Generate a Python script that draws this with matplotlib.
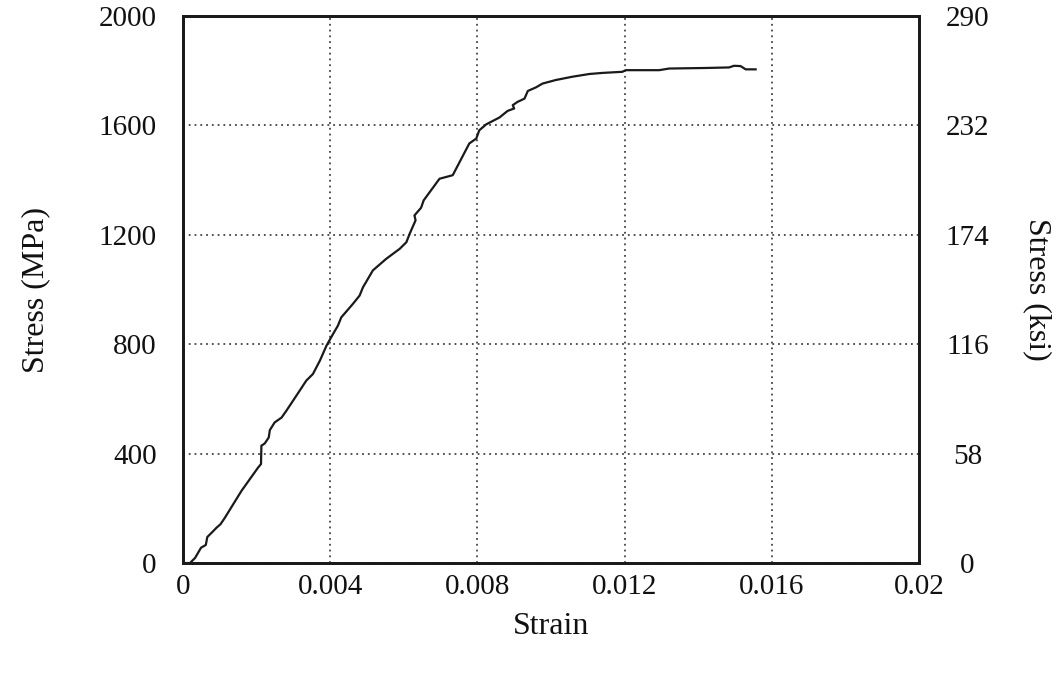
import matplotlib
matplotlib.use("Agg")
import matplotlib.pyplot as plt

# Measured stress-strain response
strain = [0.00005, 0.00019, 0.00033, 0.00049, 0.00062, 0.00066, 0.00078, 0.00091,
          0.00102, 0.00114, 0.00159, 0.00204, 0.00212, 0.00213, 0.00222, 0.00233,
          0.00236, 0.00249, 0.00268, 0.00281, 0.00317, 0.00335, 0.00353, 0.00372,
          0.00390, 0.00408, 0.00421, 0.00430, 0.00462, 0.00480, 0.00489, 0.00516,
          0.00552, 0.00589, 0.00607, 0.00616, 0.00632, 0.00629, 0.00647, 0.00654,
          0.00697, 0.00733, 0.00778, 0.00797, 0.00805, 0.00824, 0.00860, 0.00882,
          0.00900, 0.00896, 0.00909, 0.00928, 0.00937, 0.00959, 0.00977, 0.01013,
          0.01058, 0.01104, 0.01140, 0.01194, 0.01203, 0.01294, 0.01321, 0.01420,
          0.01484, 0.01497, 0.01515, 0.01529, 0.01556]
stress_mpa = [0, 0, 19, 56, 66, 95, 111, 129,
              142, 166, 264, 349, 362, 429, 437, 459,
              486, 514, 532, 557, 630, 667, 691, 740,
              795, 838, 868, 898, 948, 978, 1008, 1070,
              1112, 1149, 1173, 1204, 1253, 1271, 1299, 1326,
              1405, 1418, 1534, 1552, 1582, 1604, 1629, 1653,
              1662, 1674, 1686, 1698, 1726, 1739, 1753, 1766,
              1778, 1788, 1792, 1796, 1802, 1802, 1808, 1810,
              1812, 1818, 1817, 1805, 1805]

x_ticks = [0, 0.004, 0.008, 0.012, 0.016, 0.02]
x_tick_labels = ["0", "0.004", "0.008", "0.012", "0.016", "0.02"]
mpa_ticks = [0, 400, 800, 1200, 1600, 2000]
ksi_ticks = [0, 58, 116, 174, 232, 290]

plt.rcParams["font.family"] = ["Liberation Serif", "DejaVu Serif"]

fig = plt.figure(figsize=(10.59, 6.73), dpi=100)
ax = fig.add_axes([0.1728, 0.1634, 0.695, 0.8128])

ax.plot(strain, stress_mpa, color="#1a1a1a", lw=1.6, zorder=3)

ax.set_xlim(0, 0.02)
ax.set_ylim(0, 2000)
ax.set_xticks(x_ticks)
ax.set_xticklabels(x_tick_labels)
ax.set_yticks(mpa_ticks)
ax.grid(True, linestyle=(0, (1, 2.2)), color="#444444", lw=1.3)
ax.tick_params(axis="x", length=0, pad=8, labelsize=21, colors="#111111")
ax.tick_params(axis="y", length=0, pad=19, labelsize=21, colors="#111111")
for s in ax.spines.values():
    s.set_linewidth(2.0)
    s.set_color("#1a1a1a")

ax.set_xlabel("Strain", fontsize=23, color="#111111")
ax.xaxis.set_label_coords(0.5, -0.09)
ax.set_ylabel("Stress (MPa)", fontsize=23, color="#111111")
ax.yaxis.set_label_coords(-0.18, 0.5)

ax2 = ax.twinx()
ax2.set_ylim(0, 290)
ax2.set_yticks(ksi_ticks)
ax2.tick_params(axis="y", length=0, pad=35, labelsize=21, colors="#111111")
for lab in ax2.get_yticklabels():
    lab.set_horizontalalignment("center")
for s in ax2.spines.values():
    s.set_linewidth(2.0)
    s.set_color("#1a1a1a")
ax2.set_ylabel("Stress (ksi)", fontsize=23, rotation=270, color="#111111")
ax2.yaxis.set_label_coords(1.18, 0.5)

fig.savefig("out.png", dpi=100, facecolor="white")
